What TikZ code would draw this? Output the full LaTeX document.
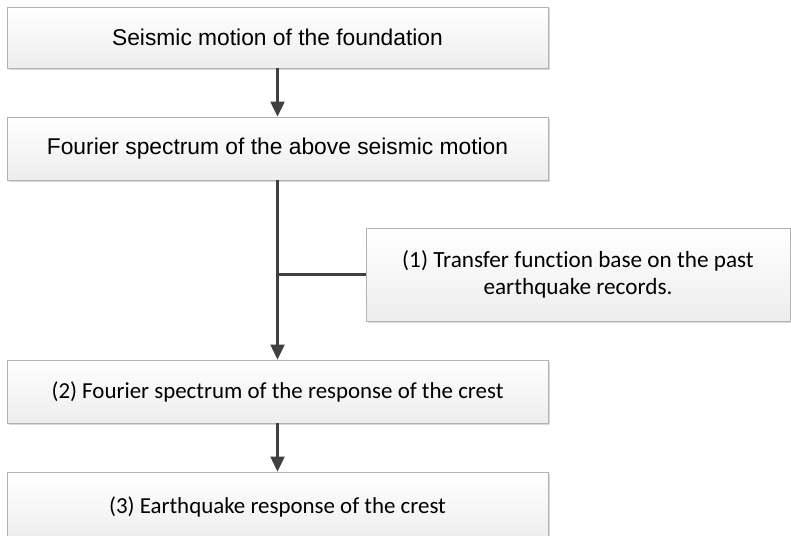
\documentclass[tikz,border=0pt]{standalone}
\usepackage{fontspec}
\setmainfont{Liberation Sans}
\newfontfamily\calib[Ligatures=NoCommon]{Carlito}
\usetikzlibrary{arrows.meta,shadows}

\tikzset{
  flowbox/.style={draw=gray!60, line width=0.8pt, top color=white, bottom color=gray!14,
    drop shadow={shadow xshift=1.5pt, shadow yshift=-1.5pt, fill=gray!50, opacity=0.6},
    align=center, inner sep=0pt, minimum width=541pt},
  flowarrow/.style={draw=black!75, line width=2.1pt, -{Triangle[length=15pt,width=14pt]}},
  flowline/.style={draw=black!75, line width=2.1pt}
}

\begin{document}
\begin{tikzpicture}[x=1pt, y=-1pt]
\useasboundingbox (0,0) rectangle (791,535);

\node[flowbox, minimum height=61pt, font=\fontsize{22.8}{26}\selectfont] (motion) at (277.5, 37.5) {Seismic motion of the foundation};
\node[flowbox, minimum height=63pt, font=\fontsize{22.8}{26}\selectfont] (spectrum) at (277.5, 148.5) {Fourier spectrum of the above seismic motion};
\node[flowbox, minimum width=424pt, minimum height=93pt, font=\calib\fontsize{23.2}{26.5}\selectfont] (transfer) at (578, 274.5) {(1) Transfer function base on the past\\earthquake records.};
\node[flowbox, minimum height=63pt, font=\calib\fontsize{22.9}{26}\selectfont] (crestspec) at (277.5, 391.5) {(2) Fourier spectrum of the response of the crest};
\node[flowbox, minimum height=70pt, font=\calib\fontsize{22.9}{26}\selectfont] (crestresp) at (277.5, 507) {(3) Earthquake response of the crest};

\draw[flowarrow] (motion) -- (spectrum);
\draw[flowarrow] (spectrum) -- (crestspec);
\draw[flowline] (transfer.west) -- (transfer.west -| spectrum.south);
\draw[flowarrow] (crestspec) -- (crestresp);
\end{tikzpicture}
\end{document}
